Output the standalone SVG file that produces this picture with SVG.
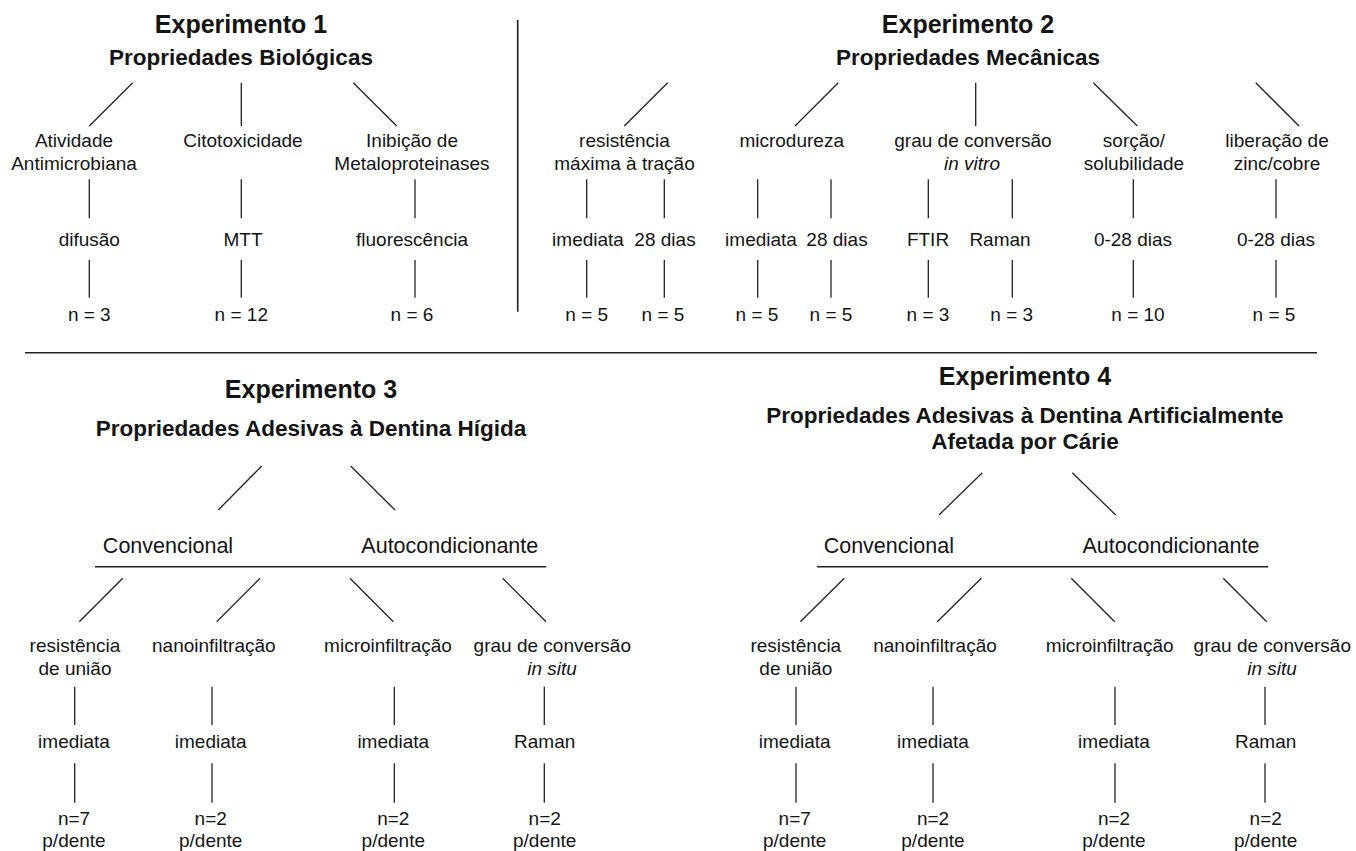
<svg xmlns="http://www.w3.org/2000/svg" width="1356" height="851" viewBox="0 0 1356 851">
<style>
text{font-family:"Liberation Sans",Arial,Helvetica,sans-serif;fill:#141414;text-anchor:middle}
.h{font-size:25px;font-weight:bold}
.s{font-size:22.5px;font-weight:bold}
.t{font-size:19px}
.b{font-size:21.5px}
.i{font-style:italic}
line{stroke:#222;stroke-width:1.3;fill:none}
.sep{stroke:#222;stroke-width:1.6}
</style>
<rect width="1356" height="851" fill="#fff"/>
<g id="connectors">
<line class="sep" x1="517.7" y1="20" x2="517.7" y2="311.7"/>
<line class="sep" x1="25" y1="352.7" x2="1317" y2="352.7"/>
<!-- Exp1 -->
<line x1="132.7" y1="82.7" x2="89.3" y2="126"/>
<line x1="241.3" y1="82.7" x2="241.3" y2="126"/>
<line x1="353.3" y1="82.7" x2="396.7" y2="126"/>
<line x1="89.3" y1="179.3" x2="89.3" y2="218.3"/>
<line x1="241.3" y1="179.3" x2="241.3" y2="218.3"/>
<line x1="415" y1="179.3" x2="415" y2="218.3"/>
<line x1="89.3" y1="260" x2="89.3" y2="297.7"/>
<line x1="241.3" y1="260" x2="241.3" y2="297.7"/>
<line x1="415" y1="260" x2="415" y2="297.7"/>
<!-- Exp2 -->
<line x1="667.7" y1="82.7" x2="624.3" y2="126"/>
<line x1="838.3" y1="82.7" x2="795" y2="126"/>
<line x1="975.7" y1="82.7" x2="975.7" y2="126"/>
<line x1="1093.3" y1="82.7" x2="1137.3" y2="126"/>
<line x1="1255.7" y1="82.7" x2="1299" y2="126"/>
<line x1="586.7" y1="179.3" x2="586.7" y2="218.3"/>
<line x1="664.3" y1="179.3" x2="664.3" y2="218.3"/>
<line x1="757.7" y1="179.3" x2="757.7" y2="218.3"/>
<line x1="831" y1="179.3" x2="831" y2="218.3"/>
<line x1="928.3" y1="179.3" x2="928.3" y2="218.3"/>
<line x1="1012.3" y1="179.3" x2="1012.3" y2="218.3"/>
<line x1="1133.3" y1="179.3" x2="1133.3" y2="218.3"/>
<line x1="1276" y1="179.3" x2="1276" y2="218.3"/>
<line x1="586.7" y1="260" x2="586.7" y2="297.7"/>
<line x1="664.3" y1="260" x2="664.3" y2="297.7"/>
<line x1="757.7" y1="260" x2="757.7" y2="297.7"/>
<line x1="831" y1="260" x2="831" y2="297.7"/>
<line x1="928.3" y1="260" x2="928.3" y2="297.7"/>
<line x1="1012.3" y1="260" x2="1012.3" y2="297.7"/>
<line x1="1133.3" y1="260" x2="1133.3" y2="297.7"/>
<line x1="1276" y1="260" x2="1276" y2="297.7"/>
<!-- Exp3 -->
<line x1="261.7" y1="466" x2="218.3" y2="510"/>
<line x1="350.7" y1="466" x2="395" y2="510"/>
<line class="sep" x1="95" y1="566.7" x2="546.3" y2="566.7"/>
<line x1="122.7" y1="578.3" x2="79.3" y2="621.7"/>
<line x1="260" y1="578.3" x2="216.7" y2="621.7"/>
<line x1="350" y1="578.3" x2="393.3" y2="621.7"/>
<line x1="502.7" y1="578.3" x2="546" y2="621.7"/>
<line x1="74.7" y1="686.7" x2="74.7" y2="725"/>
<line x1="212" y1="686.7" x2="212" y2="725"/>
<line x1="394.3" y1="686.7" x2="394.3" y2="725"/>
<line x1="544.3" y1="686.7" x2="544.3" y2="725"/>
<line x1="74.7" y1="763.3" x2="74.7" y2="802.7"/>
<line x1="212" y1="763.3" x2="212" y2="802.7"/>
<line x1="394.3" y1="763.3" x2="394.3" y2="802.7"/>
<line x1="544.3" y1="763.3" x2="544.3" y2="802.7"/>
<!-- Exp4 -->
<line x1="982.3" y1="472.7" x2="939" y2="515"/>
<line x1="1072.3" y1="472.7" x2="1115.7" y2="515"/>
<line class="sep" x1="817" y1="566.7" x2="1268.3" y2="566.7"/>
<line x1="844.3" y1="578.3" x2="800.3" y2="621.7"/>
<line x1="981.3" y1="578.3" x2="937.3" y2="621.7"/>
<line x1="1071.3" y1="578.3" x2="1114.7" y2="621.7"/>
<line x1="1223.3" y1="578.3" x2="1266.7" y2="621.7"/>
<line x1="796" y1="686.7" x2="796" y2="725"/>
<line x1="933" y1="686.7" x2="933" y2="725"/>
<line x1="1115" y1="686.7" x2="1115" y2="725"/>
<line x1="1265" y1="686.7" x2="1265" y2="725"/>
<line x1="796" y1="763.3" x2="796" y2="802.7"/>
<line x1="933" y1="763.3" x2="933" y2="802.7"/>
<line x1="1115" y1="763.3" x2="1115" y2="802.7"/>
<line x1="1265" y1="763.3" x2="1265" y2="802.7"/>
</g>
<!-- Experimento 1 -->
<g id="exp1-title"><text class="h" x="241" y="33">Experimento 1</text><text class="s" x="241" y="65">Propriedades Biológicas</text></g>
<g id="exp1-antimicrobiana"><text class="t" x="74" y="146.7">Atividade</text><text class="t" x="74" y="170">Antimicrobiana</text></g>
<g id="exp1-citotoxicidade"><text class="t" x="243" y="146.7">Citotoxicidade</text></g>
<g id="exp1-inibicao"><text class="t" x="412" y="146.7">Inibição de</text><text class="t" x="412" y="170">Metaloproteinases</text></g>
<g id="exp1-difusao"><text class="t" x="89.3" y="246">difusão</text></g>
<g id="exp1-mtt"><text class="t" x="243" y="246">MTT</text></g>
<g id="exp1-fluorescencia"><text class="t" x="412" y="246">fluorescência</text></g>
<g id="exp1-n1"><text class="t" x="89.3" y="321">n = 3</text></g>
<g id="exp1-n2"><text class="t" x="241.3" y="321">n = 12</text></g>
<g id="exp1-n3"><text class="t" x="412" y="321">n = 6</text></g>
<!-- Experimento 2 -->
<g id="exp2-title"><text class="h" x="968" y="33">Experimento 2</text><text class="s" x="968" y="65">Propriedades Mecânicas</text></g>
<g id="exp2-tracao"><text class="t" x="624.5" y="146.7">resistência</text><text class="t" x="624.5" y="170">máxima à tração</text></g>
<g id="exp2-microdureza"><text class="t" x="791.7" y="146.7">microdureza</text></g>
<g id="exp2-grau"><text class="t" x="973" y="146.7">grau de conversão</text><text class="t i" x="972" y="170">in vitro</text></g>
<g id="exp2-sorcao"><text class="t" x="1134" y="146.7">sorção/</text><text class="t" x="1134" y="170">solubilidade</text></g>
<g id="exp2-liberacao"><text class="t" x="1277" y="146.7">liberação de</text><text class="t" x="1277" y="170">zinc/cobre</text></g>
<g id="exp2-l2a"><text class="t" x="588" y="246">imediata</text></g>
<g id="exp2-l2b"><text class="t" x="665" y="246">28 dias</text></g>
<g id="exp2-l2c"><text class="t" x="761" y="246">imediata</text></g>
<g id="exp2-l2d"><text class="t" x="837" y="246">28 dias</text></g>
<g id="exp2-l2e"><text class="t" x="928" y="246">FTIR</text></g>
<g id="exp2-l2f"><text class="t" x="1000" y="246">Raman</text></g>
<g id="exp2-l2g"><text class="t" x="1133" y="246">0-28 dias</text></g>
<g id="exp2-l2h"><text class="t" x="1276" y="246">0-28 dias</text></g>
<g id="exp2-n1"><text class="t" x="586.7" y="321">n = 5</text></g>
<g id="exp2-n2"><text class="t" x="663" y="321">n = 5</text></g>
<g id="exp2-n3"><text class="t" x="757" y="321">n = 5</text></g>
<g id="exp2-n4"><text class="t" x="831" y="321">n = 5</text></g>
<g id="exp2-n5"><text class="t" x="928" y="321">n = 3</text></g>
<g id="exp2-n6"><text class="t" x="1011.7" y="321">n = 3</text></g>
<g id="exp2-n7"><text class="t" x="1138" y="321">n = 10</text></g>
<g id="exp2-n8"><text class="t" x="1274" y="321">n = 5</text></g>
<!-- Experimento 3 -->
<g id="exp3-title"><text class="h" x="311" y="398">Experimento 3</text><text class="s" x="311" y="436">Propriedades Adesivas à Dentina Hígida</text></g>
<g id="exp3-convencional"><text class="b" x="168" y="552.7">Convencional</text></g>
<g id="exp3-auto"><text class="b" x="449.8" y="552.7">Autocondicionante</text></g>
<g id="exp3-resistencia"><text class="t" x="75" y="651.7">resistência</text><text class="t" x="75" y="675">de união</text></g>
<g id="exp3-nano"><text class="t" x="213.8" y="651.7">nanoinfiltração</text></g>
<g id="exp3-micro"><text class="t" x="388" y="651.7">microinfiltração</text></g>
<g id="exp3-grau"><text class="t" x="552.3" y="651.7">grau de conversão</text><text class="t i" x="552" y="675">in situ</text></g>
<g id="exp3-m1"><text class="t" x="74" y="748.3">imediata</text></g>
<g id="exp3-m2"><text class="t" x="210.7" y="748.3">imediata</text></g>
<g id="exp3-m3"><text class="t" x="393.3" y="748.3">imediata</text></g>
<g id="exp3-m4"><text class="t" x="544.7" y="748.3">Raman</text></g>
<g id="exp3-n1"><text class="t" x="74" y="825">n=7</text><text class="t" x="74" y="846.7">p/dente</text></g>
<g id="exp3-n2"><text class="t" x="210.7" y="825">n=2</text><text class="t" x="210.7" y="846.7">p/dente</text></g>
<g id="exp3-n3"><text class="t" x="393.3" y="825">n=2</text><text class="t" x="393.3" y="846.7">p/dente</text></g>
<g id="exp3-n4"><text class="t" x="544.7" y="825">n=2</text><text class="t" x="544.7" y="846.7">p/dente</text></g>
<!-- Experimento 4 -->
<g id="exp4-title"><text class="h" x="1025" y="385">Experimento 4</text><text class="s" x="1025" y="423">Propriedades Adesivas à Dentina Artificialmente</text><text class="s" x="1025" y="449">Afetada por Cárie</text></g>
<g id="exp4-convencional"><text class="b" x="888.8" y="552.7">Convencional</text></g>
<g id="exp4-auto"><text class="b" x="1171" y="552.7">Autocondicionante</text></g>
<g id="exp4-resistencia"><text class="t" x="795.8" y="651.7">resistência</text><text class="t" x="795.8" y="675">de união</text></g>
<g id="exp4-nano"><text class="t" x="935" y="651.7">nanoinfiltração</text></g>
<g id="exp4-micro"><text class="t" x="1109.7" y="651.7">microinfiltração</text></g>
<g id="exp4-grau"><text class="t" x="1272.3" y="651.7">grau de conversão</text><text class="t i" x="1272" y="675">in situ</text></g>
<g id="exp4-m1"><text class="t" x="794.7" y="748.3">imediata</text></g>
<g id="exp4-m2"><text class="t" x="933" y="748.3">imediata</text></g>
<g id="exp4-m3"><text class="t" x="1114" y="748.3">imediata</text></g>
<g id="exp4-m4"><text class="t" x="1265.7" y="748.3">Raman</text></g>
<g id="exp4-n1"><text class="t" x="794.7" y="825">n=7</text><text class="t" x="794.7" y="846.7">p/dente</text></g>
<g id="exp4-n2"><text class="t" x="933" y="825">n=2</text><text class="t" x="933" y="846.7">p/dente</text></g>
<g id="exp4-n3"><text class="t" x="1114" y="825">n=2</text><text class="t" x="1114" y="846.7">p/dente</text></g>
<g id="exp4-n4"><text class="t" x="1265.7" y="825">n=2</text><text class="t" x="1265.7" y="846.7">p/dente</text></g>
</svg>
